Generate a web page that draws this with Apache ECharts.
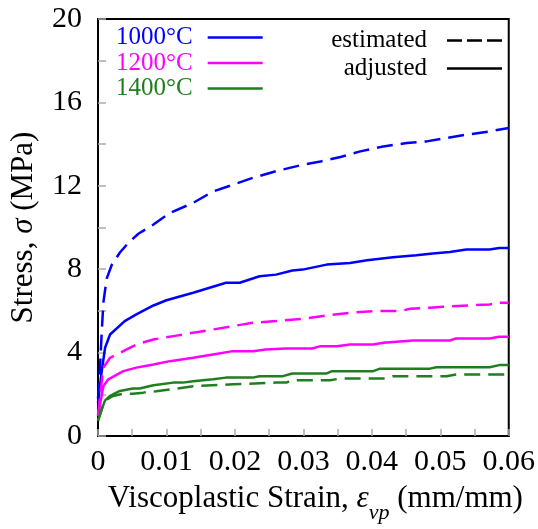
<!DOCTYPE html>
<html><head><meta charset="utf-8">
<script src="https://cdn.jsdelivr.net/npm/echarts@6/dist/echarts.min.js"></script>
<style>html,body{margin:0;padding:0;background:#fff}#c{width:538px;height:529px}</style>
</head><body><div id="c"></div>
<script>
// ---- data (strain mm/mm, stress MPa) ----
const strain1000est = [0, 0.0003, 0.00054, 0.00078, 0.00127, 0.002, 0.0025, 0.0032, 0.0044, 0.0059, 0.0081, 0.0105, 0.0139, 0.0168, 0.0197, 0.0226, 0.026, 0.0299, 0.0325, 0.0354, 0.0383, 0.0417, 0.0451, 0.048, 0.0509, 0.0538, 0.0572, 0.06];
const stress1000est = [1.8, 3.35, 4.95, 6.39, 7.55, 8.2, 8.45, 8.8, 9.25, 9.7, 10.14, 10.7, 11.18, 11.73, 12.05, 12.38, 12.7, 13.01, 13.17, 13.38, 13.65, 13.89, 14.05, 14.13, 14.29, 14.45, 14.61, 14.77];
const strain1000adj = [0, 0.0005, 0.00103, 0.00176, 0.0039, 0.0056, 0.0081, 0.01, 0.0139, 0.0187, 0.0207, 0.0236, 0.026, 0.0284, 0.0299, 0.0334, 0.0368, 0.0393, 0.0431, 0.0465, 0.0489, 0.0514, 0.0538, 0.0572, 0.0586, 0.06];
const stress1000adj = [1.6, 3.0, 4.23, 4.87, 5.51, 5.83, 6.26, 6.51, 6.87, 7.35, 7.35, 7.66, 7.74, 7.94, 7.98, 8.22, 8.30, 8.43, 8.57, 8.67, 8.75, 8.83, 8.94, 8.94, 9.02, 9.02];
const strain1200est = [0, 0.00078, 0.00176, 0.0042, 0.0056, 0.0081, 0.011, 0.0139, 0.0168, 0.0197, 0.0226, 0.026, 0.0299, 0.0334, 0.0368, 0.0407, 0.0441, 0.0456, 0.0485, 0.0504, 0.0572, 0.0582, 0.06];
const stress1200est = [1.0, 3.28, 3.75, 4.15, 4.39, 4.63, 4.79, 4.95, 5.11, 5.27, 5.43, 5.51, 5.62, 5.78, 5.91, 5.99, 5.99, 6.1, 6.15, 6.2, 6.31, 6.39, 6.39];
const strain1200adj = [0, 0.00078, 0.0015, 0.0037, 0.0056, 0.0081, 0.0105, 0.0139, 0.0168, 0.0197, 0.0226, 0.0245, 0.0274, 0.0313, 0.0325, 0.0349, 0.0368, 0.0402, 0.0417, 0.046, 0.0514, 0.0523, 0.0572, 0.0586, 0.06];
const stress1200adj = [0.96, 2.39, 2.72, 3.11, 3.28, 3.43, 3.59, 3.75, 3.91, 4.07, 4.07, 4.15, 4.2, 4.2, 4.31, 4.31, 4.39, 4.39, 4.47, 4.58, 4.58, 4.68, 4.68, 4.76, 4.76];
const strain1400est = [0, 0.00054, 0.00103, 0.0022, 0.0037, 0.0051, 0.0066, 0.0085, 0.011, 0.0139, 0.0197, 0.026, 0.0275, 0.0284, 0.0339, 0.0354, 0.0417, 0.0431, 0.0509, 0.0523, 0.06];
const stress1400est = [0.72, 1.28, 1.71, 1.92, 2.03, 2.03, 2.08, 2.15, 2.25, 2.39, 2.48, 2.56, 2.56, 2.68, 2.67, 2.76, 2.76, 2.87, 2.87, 2.95, 2.95];
const strain1400adj = [0, 0.00054, 0.00103, 0.00176, 0.0032, 0.0051, 0.0061, 0.0081, 0.011, 0.0124, 0.0139, 0.0168, 0.0187, 0.0226, 0.0236, 0.027, 0.0284, 0.0334, 0.0342, 0.0402, 0.0412, 0.0485, 0.0494, 0.0572, 0.0586, 0.06];
const stress1400adj = [0.72, 1.28, 1.71, 1.92, 2.16, 2.28, 2.28, 2.43, 2.56, 2.56, 2.63, 2.72, 2.80, 2.80, 2.87, 2.87, 3.0, 3.0, 3.11, 3.11, 3.23, 3.23, 3.30, 3.30, 3.40, 3.40];
const temperatures = ['1000°C', '1200°C', '1400°C'];
const styleNames = ['estimated', 'adjusted'];
const colors = ['#0000ff', '#ff00ff', '#1f7f1f'];

const pairs = (xs, ys) => xs.map((x, i) => [x, ys[i]]);
const FONT = '"Liberation Serif", "Times New Roman", serif';
const dash = [16, 8];
const LW = 2.5;
const SOLID_ICON = 'path://M0,0h55v2.5h-55z';
const DASH_ICON = 'path://M0,0h15v2.5h-15z M20,0h15v2.5h-15z M40,0h15v2.5h-15z';

function line(name, data, color, dashed) {
  return { name, type: 'line', data, symbol: 'none', smooth: false, animation: false,
    lineStyle: { color, width: LW, type: dashed ? dash : 'solid' }, itemStyle: { color }, z: 3 };
}

const series = [
  line(temperatures[0] + ' est', pairs(strain1000est, stress1000est), colors[0], true),
  line(temperatures[0], pairs(strain1000adj, stress1000adj), colors[0], false),
  line(temperatures[1] + ' est', pairs(strain1200est, stress1200est), colors[1], true),
  line(temperatures[1], pairs(strain1200adj, stress1200adj), colors[1], false),
  line(temperatures[2] + ' est', pairs(strain1400est, stress1400est), colors[2], true),
  line(temperatures[2], pairs(strain1400adj, stress1400adj), colors[2], false),
  line(styleNames[0], [], '#000', true),
  line(styleNames[1], [], '#000', false)
];

const chart = echarts.init(document.getElementById('c'), null, { renderer: 'canvas' });
chart.setOption({
  animation: false,
  backgroundColor: '#fff',
  grid: { left: 96.6, right: 28.6, top: 19, bottom: 92.3, show: true, borderColor: '#000', borderWidth: 2, containLabel: false },
  legend: [
    { orient: 'vertical', left: 116, top: 25, padding: 0, itemGap: 0.5, align: 'right', selectedMode: false,
      itemWidth: 55, itemHeight: 2.5,
      textStyle: { fontFamily: FONT, fontSize: 25, padding: [0, 10, 0, 0] },
      data: temperatures.map((t, i) => ({ name: t, icon: SOLID_ICON, textStyle: { color: colors[i] } })) },
    { orient: 'vertical', right: 36, top: 28, padding: 0, itemGap: 3, align: 'right', selectedMode: false,
      itemWidth: 55, itemHeight: 2.5,
      textStyle: { fontFamily: FONT, fontSize: 25, color: '#000', padding: [0, 15, 0, 0] },
      data: [{ name: styleNames[0], icon: DASH_ICON }, { name: styleNames[1], icon: SOLID_ICON }] }
  ],
  xAxis: {
    type: 'value', min: 0, max: 0.06, interval: 0.01,
    axisLine: { show: true, lineStyle: { color: '#000', width: 2 } },
    axisTick: { show: true, inside: true, length: 7, lineStyle: { color: '#aaa', width: 1.5 } },
    minorTick: { show: true, splitNumber: 2, length: 7, lineStyle: { color: '#aaa', width: 1.5 } },
    splitLine: { show: false },
    axisLabel: { fontFamily: FONT, fontSize: 30, color: '#000', margin: 11,
      formatter: v => v === 0 ? '0' : v.toFixed(2) },
    name: '{a|Viscoplastic Strain, }{i|ε}{s|vp}{a| (mm/mm)}',
    nameLocation: 'middle', nameGap: 47,
    nameTextStyle: { padding: [0, 0, 0, 24], rich: {
      a: { fontFamily: FONT, fontSize: 31, color: '#000', lineHeight: 32, verticalAlign: 'top' },
      i: { fontFamily: FONT, fontSize: 31, fontStyle: 'italic', color: '#000', lineHeight: 32, verticalAlign: 'top' },
      s: { fontFamily: FONT, fontSize: 22, fontStyle: 'italic', color: '#000', lineHeight: 22, padding: [19, 0, 0, 0], verticalAlign: 'top' }
    } }
  },
  yAxis: {
    type: 'value', min: 0, max: 20, interval: 4,
    axisLine: { show: true, lineStyle: { color: '#000', width: 2 } },
    axisTick: { show: true, inside: true, length: 8, lineStyle: { color: '#aaa', width: 1.5 } },
    minorTick: { show: true, splitNumber: 2, length: 8, lineStyle: { color: '#aaa', width: 1.5 } },
    splitLine: { show: false },
    axisLabel: { fontFamily: FONT, fontSize: 30, color: '#000', margin: 16 },
    name: '{a|Stress, }{i|σ}{a| (MPa)}',
    nameLocation: 'middle', nameGap: 59,
    nameTextStyle: { rich: {
      a: { fontFamily: FONT, fontSize: 31, color: '#000' },
      i: { fontFamily: FONT, fontSize: 31, fontStyle: 'italic', color: '#000' }
    } }
  },
  series
});
</script></body></html>
